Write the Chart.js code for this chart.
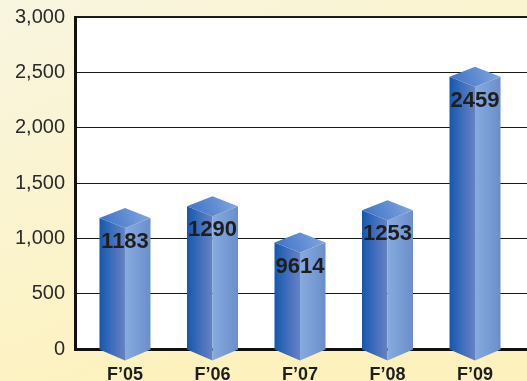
<!DOCTYPE html>
<html>
<head>
<meta charset="utf-8">
<title>Fiscal year totals</title>
<script src="https://cdn.jsdelivr.net/npm/chart.js@4/dist/chart.umd.min.js"></script>
<style>
    html, body { margin: 0; padding: 0; background: #fdf3c2; }
    #chart { display: block; }
</style>
</head>
<body>
<canvas id="chart" width="527" height="381"></canvas>
<script>
// Fiscal years and the total for each one
const categories = ['F\u201905', 'F\u201906', 'F\u201907', 'F\u201908', 'F\u201909'];
const totals = [1183, 1290, 961.4, 1253, 2459];

// Value axis
const yMin = 0;
const yMax = 3000;
const yStep = 500;

// Shape of the prism bars
const BAR_WIDTH = 51;
const CAP_DEPTH = 10;

// Cream background behind the axes, white plot area
const backgroundPlugin = {
    id: 'panelBackground',
    beforeDraw(chart) {
        const { ctx, width, height, chartArea } = chart;
        ctx.save();
        const bg = ctx.createLinearGradient(0, 0, width * 0.3, height);
        bg.addColorStop(0, '#f8f5e0');
        bg.addColorStop(1, '#fdf2be');
        ctx.fillStyle = bg;
        ctx.fillRect(0, 0, width, height);
        ctx.fillStyle = '#ffffff';
        ctx.fillRect(chartArea.left, chartArea.top,
            chartArea.right - chartArea.left, chartArea.bottom - chartArea.top);
        ctx.restore();
    }
};

// Draws each bar as a hexagonal prism with a pointed cap and a pointed foot
const prismPlugin = {
    id: 'prismBars',
    afterDatasetsDraw(chart) {
        const { ctx } = chart;
        const meta = chart.getDatasetMeta(0);
        ctx.save();
        meta.data.forEach((bar, i) => {
            const x = bar.x;
            const top = bar.y;
            const base = bar.base;
            const half = bar.width / 2;
            const left = x - half;
            const right = x + half;

            // left face
            let g = ctx.createLinearGradient(left, 0, x, 0);
            g.addColorStop(0, '#1557ad');
            g.addColorStop(0.45, '#3a6cba');
            g.addColorStop(1, '#6782c2');
            ctx.fillStyle = g;
            ctx.beginPath();
            ctx.moveTo(left, top);
            ctx.lineTo(x, top + CAP_DEPTH);
            ctx.lineTo(x, base + 12);
            ctx.lineTo(left, base + 1);
            ctx.closePath();
            ctx.fill();

            // right face
            g = ctx.createLinearGradient(x, 0, right, 0);
            g.addColorStop(0, '#86abdf');
            g.addColorStop(1, '#6b8ecb');
            ctx.fillStyle = g;
            ctx.beginPath();
            ctx.moveTo(x, top + CAP_DEPTH);
            ctx.lineTo(right, top);
            ctx.lineTo(right, base + 1);
            ctx.lineTo(x, base + 12);
            ctx.closePath();
            ctx.fill();

            // cap
            g = ctx.createLinearGradient(left, top + CAP_DEPTH, right, top - CAP_DEPTH);
            g.addColorStop(0, '#3b6fc4');
            g.addColorStop(0.5, '#5f8bd2');
            g.addColorStop(1, '#88a9df');
            ctx.fillStyle = g;
            ctx.beginPath();
            ctx.moveTo(left, top);
            ctx.lineTo(x, top - CAP_DEPTH);
            ctx.lineTo(right, top);
            ctx.lineTo(x, top + CAP_DEPTH);
            ctx.closePath();
            ctx.fill();

            // value label on the front of the bar
            const value = chart.data.datasets[0].data[i].y;
            ctx.fillStyle = '#1e1e1e';
            ctx.font = 'bold 22px "Liberation Sans Narrow", "Liberation Sans", Arial, sans-serif';
            ctx.textAlign = 'center';
            ctx.textBaseline = 'middle';
            ctx.fillText(String(value).replace('.', ''), x, top + 24);
        });
        ctx.restore();
    }
};

const ctx = document.getElementById('chart').getContext('2d');
new Chart(ctx, {
    type: 'bar',
    data: {
        datasets: [{
            data: totals.map((v, i) => ({ x: i, y: v })),
            backgroundColor: 'rgba(0,0,0,0)',
            borderWidth: 0,
            barThickness: BAR_WIDTH
        }]
    },
    options: {
        responsive: false,
        animation: false,
        layout: { padding: { top: 17, right: 0, bottom: 0, left: 0 } },
        plugins: {
            legend: { display: false },
            tooltip: { enabled: false }
        },
        scales: {
            x: {
                type: 'linear',
                offset: false,
                min: -0.571,
                max: 4.594,
                afterFit(scale) {
                    scale.height = 32;
                    scale.paddingLeft = 0;
                    scale.paddingRight = 0;
                },
                afterBuildTicks(scale) {
                    scale.ticks = categories.map((c, i) => ({ value: i }));
                },
                grid: { display: false, drawTicks: false },
                border: { display: true, color: '#111', width: 3 },
                ticks: {
                    padding: 15,
                    color: '#1e1e1e',
                    font: { family: '"Liberation Sans", Arial, sans-serif', size: 18, weight: 'bold' },
                    callback: (v) => categories[v] ?? ''
                }
            },
            y: {
                min: yMin,
                max: yMax,
                afterFit(scale) {
                    scale.width = 75;
                    scale.paddingTop = 0;
                    scale.paddingBottom = 0;
                },
                grid: {
                    drawTicks: false,
                    color: '#1a1a1a',
                    lineWidth: (c) => (c.tick && c.tick.value === yMax ? 2 : 1)
                },
                border: { display: true, color: '#111', width: 3 },
                ticks: {
                    stepSize: yStep,
                    padding: 10,
                    color: '#2a2a2a',
                    font: { family: '"Liberation Sans", Arial, sans-serif', size: 20 },
                    callback: (v) => v.toLocaleString('en-US')
                }
            }
        }
    },
    plugins: [backgroundPlugin, prismPlugin]
});
</script>
</body>
</html>
